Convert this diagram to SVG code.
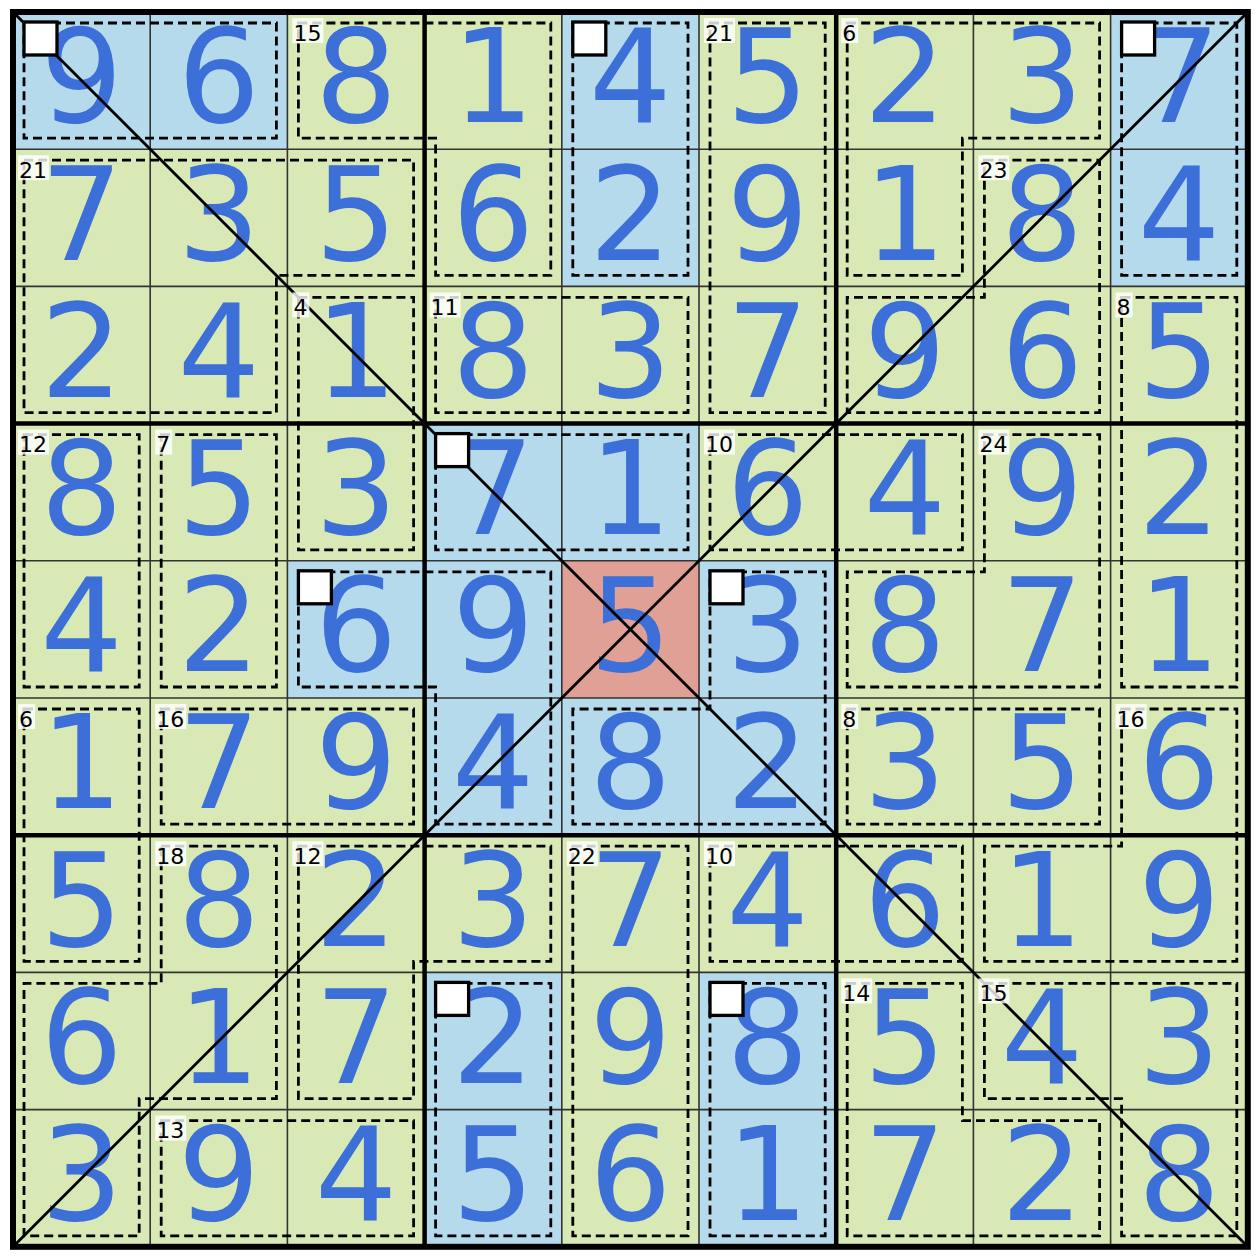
<svg xmlns="http://www.w3.org/2000/svg" width="1260" height="1258" viewBox="0 0 1260 1258">
<style>
.g{fill:#d9e9b6}
.b{fill:#b5daec}
.r{fill:#e0a095}
.dg{font-family:"DejaVu Sans",Verdana,sans-serif;font-size:130px;fill:#3d6fd8;text-anchor:middle}
.thin{stroke:#333;stroke-width:1.6}
.thick{stroke:#000;stroke-width:4.5}
.cage{fill:none;stroke:#000;stroke-width:2.8;stroke-dasharray:9 5}
.diag{stroke:#000;stroke-width:2.8}
.wb{fill:#fff;stroke:#000;stroke-width:3.3}
.lb{fill:#fff;fill-opacity:0.8}
.lt{font-family:"DejaVu Sans",Verdana,sans-serif;font-size:22px;fill:#000}
</style>
<rect width="1260" height="1258" fill="#fff"/>
<g id="cells">
<g id="c00"><rect class="b" x="13" y="12" width="137.2" height="137.2"/><text class="dg" x="81.6" y="122.4">9</text></g>
<g id="c01"><rect class="b" x="150.2" y="12" width="137.2" height="137.2"/><text class="dg" x="218.8" y="122.4">6</text></g>
<g id="c02"><rect class="g" x="287.4" y="12" width="137.2" height="137.2"/><text class="dg" x="356" y="122.4">8</text></g>
<g id="c03"><rect class="g" x="424.6" y="12" width="137.2" height="137.2"/><text class="dg" x="493.2" y="122.4">1</text></g>
<g id="c04"><rect class="b" x="561.8" y="12" width="137.2" height="137.2"/><text class="dg" x="630.4" y="122.4">4</text></g>
<g id="c05"><rect class="g" x="699" y="12" width="137.2" height="137.2"/><text class="dg" x="767.6" y="122.4">5</text></g>
<g id="c06"><rect class="g" x="836.2" y="12" width="137.2" height="137.2"/><text class="dg" x="904.8" y="122.4">2</text></g>
<g id="c07"><rect class="g" x="973.4" y="12" width="137.2" height="137.2"/><text class="dg" x="1042" y="122.4">3</text></g>
<g id="c08"><rect class="b" x="1110.6" y="12" width="137.2" height="137.2"/><text class="dg" x="1179.2" y="122.4">7</text></g>

<g id="c10"><rect class="g" x="13" y="149.2" width="137.2" height="137.2"/><text class="dg" x="81.6" y="259.6">7</text></g>
<g id="c11"><rect class="g" x="150.2" y="149.2" width="137.2" height="137.2"/><text class="dg" x="218.8" y="259.6">3</text></g>
<g id="c12"><rect class="g" x="287.4" y="149.2" width="137.2" height="137.2"/><text class="dg" x="356" y="259.6">5</text></g>
<g id="c13"><rect class="g" x="424.6" y="149.2" width="137.2" height="137.2"/><text class="dg" x="493.2" y="259.6">6</text></g>
<g id="c14"><rect class="b" x="561.8" y="149.2" width="137.2" height="137.2"/><text class="dg" x="630.4" y="259.6">2</text></g>
<g id="c15"><rect class="g" x="699" y="149.2" width="137.2" height="137.2"/><text class="dg" x="767.6" y="259.6">9</text></g>
<g id="c16"><rect class="g" x="836.2" y="149.2" width="137.2" height="137.2"/><text class="dg" x="904.8" y="259.6">1</text></g>
<g id="c17"><rect class="g" x="973.4" y="149.2" width="137.2" height="137.2"/><text class="dg" x="1042" y="259.6">8</text></g>
<g id="c18"><rect class="b" x="1110.6" y="149.2" width="137.2" height="137.2"/><text class="dg" x="1179.2" y="259.6">4</text></g>

<g id="c20"><rect class="g" x="13" y="286.4" width="137.2" height="137.2"/><text class="dg" x="81.6" y="396.8">2</text></g>
<g id="c21"><rect class="g" x="150.2" y="286.4" width="137.2" height="137.2"/><text class="dg" x="218.8" y="396.8">4</text></g>
<g id="c22"><rect class="g" x="287.4" y="286.4" width="137.2" height="137.2"/><text class="dg" x="356" y="396.8">1</text></g>
<g id="c23"><rect class="g" x="424.6" y="286.4" width="137.2" height="137.2"/><text class="dg" x="493.2" y="396.8">8</text></g>
<g id="c24"><rect class="g" x="561.8" y="286.4" width="137.2" height="137.2"/><text class="dg" x="630.4" y="396.8">3</text></g>
<g id="c25"><rect class="g" x="699" y="286.4" width="137.2" height="137.2"/><text class="dg" x="767.6" y="396.8">7</text></g>
<g id="c26"><rect class="g" x="836.2" y="286.4" width="137.2" height="137.2"/><text class="dg" x="904.8" y="396.8">9</text></g>
<g id="c27"><rect class="g" x="973.4" y="286.4" width="137.2" height="137.2"/><text class="dg" x="1042" y="396.8">6</text></g>
<g id="c28"><rect class="g" x="1110.6" y="286.4" width="137.2" height="137.2"/><text class="dg" x="1179.2" y="396.8">5</text></g>

<g id="c30"><rect class="g" x="13" y="423.6" width="137.2" height="137.2"/><text class="dg" x="81.6" y="534">8</text></g>
<g id="c31"><rect class="g" x="150.2" y="423.6" width="137.2" height="137.2"/><text class="dg" x="218.8" y="534">5</text></g>
<g id="c32"><rect class="g" x="287.4" y="423.6" width="137.2" height="137.2"/><text class="dg" x="356" y="534">3</text></g>
<g id="c33"><rect class="b" x="424.6" y="423.6" width="137.2" height="137.2"/><text class="dg" x="493.2" y="534">7</text></g>
<g id="c34"><rect class="b" x="561.8" y="423.6" width="137.2" height="137.2"/><text class="dg" x="630.4" y="534">1</text></g>
<g id="c35"><rect class="g" x="699" y="423.6" width="137.2" height="137.2"/><text class="dg" x="767.6" y="534">6</text></g>
<g id="c36"><rect class="g" x="836.2" y="423.6" width="137.2" height="137.2"/><text class="dg" x="904.8" y="534">4</text></g>
<g id="c37"><rect class="g" x="973.4" y="423.6" width="137.2" height="137.2"/><text class="dg" x="1042" y="534">9</text></g>
<g id="c38"><rect class="g" x="1110.6" y="423.6" width="137.2" height="137.2"/><text class="dg" x="1179.2" y="534">2</text></g>

<g id="c40"><rect class="g" x="13" y="560.8" width="137.2" height="137.2"/><text class="dg" x="81.6" y="671.2">4</text></g>
<g id="c41"><rect class="g" x="150.2" y="560.8" width="137.2" height="137.2"/><text class="dg" x="218.8" y="671.2">2</text></g>
<g id="c42"><rect class="b" x="287.4" y="560.8" width="137.2" height="137.2"/><text class="dg" x="356" y="671.2">6</text></g>
<g id="c43"><rect class="b" x="424.6" y="560.8" width="137.2" height="137.2"/><text class="dg" x="493.2" y="671.2">9</text></g>
<g id="c44"><rect class="r" x="561.8" y="560.8" width="137.2" height="137.2"/><text class="dg" x="630.4" y="671.2">5</text></g>
<g id="c45"><rect class="b" x="699" y="560.8" width="137.2" height="137.2"/><text class="dg" x="767.6" y="671.2">3</text></g>
<g id="c46"><rect class="g" x="836.2" y="560.8" width="137.2" height="137.2"/><text class="dg" x="904.8" y="671.2">8</text></g>
<g id="c47"><rect class="g" x="973.4" y="560.8" width="137.2" height="137.2"/><text class="dg" x="1042" y="671.2">7</text></g>
<g id="c48"><rect class="g" x="1110.6" y="560.8" width="137.2" height="137.2"/><text class="dg" x="1179.2" y="671.2">1</text></g>

<g id="c50"><rect class="g" x="13" y="698" width="137.2" height="137.2"/><text class="dg" x="81.6" y="808.4">1</text></g>
<g id="c51"><rect class="g" x="150.2" y="698" width="137.2" height="137.2"/><text class="dg" x="218.8" y="808.4">7</text></g>
<g id="c52"><rect class="g" x="287.4" y="698" width="137.2" height="137.2"/><text class="dg" x="356" y="808.4">9</text></g>
<g id="c53"><rect class="b" x="424.6" y="698" width="137.2" height="137.2"/><text class="dg" x="493.2" y="808.4">4</text></g>
<g id="c54"><rect class="b" x="561.8" y="698" width="137.2" height="137.2"/><text class="dg" x="630.4" y="808.4">8</text></g>
<g id="c55"><rect class="b" x="699" y="698" width="137.2" height="137.2"/><text class="dg" x="767.6" y="808.4">2</text></g>
<g id="c56"><rect class="g" x="836.2" y="698" width="137.2" height="137.2"/><text class="dg" x="904.8" y="808.4">3</text></g>
<g id="c57"><rect class="g" x="973.4" y="698" width="137.2" height="137.2"/><text class="dg" x="1042" y="808.4">5</text></g>
<g id="c58"><rect class="g" x="1110.6" y="698" width="137.2" height="137.2"/><text class="dg" x="1179.2" y="808.4">6</text></g>

<g id="c60"><rect class="g" x="13" y="835.2" width="137.2" height="137.2"/><text class="dg" x="81.6" y="945.6">5</text></g>
<g id="c61"><rect class="g" x="150.2" y="835.2" width="137.2" height="137.2"/><text class="dg" x="218.8" y="945.6">8</text></g>
<g id="c62"><rect class="g" x="287.4" y="835.2" width="137.2" height="137.2"/><text class="dg" x="356" y="945.6">2</text></g>
<g id="c63"><rect class="g" x="424.6" y="835.2" width="137.2" height="137.2"/><text class="dg" x="493.2" y="945.6">3</text></g>
<g id="c64"><rect class="g" x="561.8" y="835.2" width="137.2" height="137.2"/><text class="dg" x="630.4" y="945.6">7</text></g>
<g id="c65"><rect class="g" x="699" y="835.2" width="137.2" height="137.2"/><text class="dg" x="767.6" y="945.6">4</text></g>
<g id="c66"><rect class="g" x="836.2" y="835.2" width="137.2" height="137.2"/><text class="dg" x="904.8" y="945.6">6</text></g>
<g id="c67"><rect class="g" x="973.4" y="835.2" width="137.2" height="137.2"/><text class="dg" x="1042" y="945.6">1</text></g>
<g id="c68"><rect class="g" x="1110.6" y="835.2" width="137.2" height="137.2"/><text class="dg" x="1179.2" y="945.6">9</text></g>

<g id="c70"><rect class="g" x="13" y="972.4" width="137.2" height="137.2"/><text class="dg" x="81.6" y="1082.8">6</text></g>
<g id="c71"><rect class="g" x="150.2" y="972.4" width="137.2" height="137.2"/><text class="dg" x="218.8" y="1082.8">1</text></g>
<g id="c72"><rect class="g" x="287.4" y="972.4" width="137.2" height="137.2"/><text class="dg" x="356" y="1082.8">7</text></g>
<g id="c73"><rect class="b" x="424.6" y="972.4" width="137.2" height="137.2"/><text class="dg" x="493.2" y="1082.8">2</text></g>
<g id="c74"><rect class="g" x="561.8" y="972.4" width="137.2" height="137.2"/><text class="dg" x="630.4" y="1082.8">9</text></g>
<g id="c75"><rect class="b" x="699" y="972.4" width="137.2" height="137.2"/><text class="dg" x="767.6" y="1082.8">8</text></g>
<g id="c76"><rect class="g" x="836.2" y="972.4" width="137.2" height="137.2"/><text class="dg" x="904.8" y="1082.8">5</text></g>
<g id="c77"><rect class="g" x="973.4" y="972.4" width="137.2" height="137.2"/><text class="dg" x="1042" y="1082.8">4</text></g>
<g id="c78"><rect class="g" x="1110.6" y="972.4" width="137.2" height="137.2"/><text class="dg" x="1179.2" y="1082.8">3</text></g>

<g id="c80"><rect class="g" x="13" y="1109.6" width="137.2" height="137.2"/><text class="dg" x="81.6" y="1220">3</text></g>
<g id="c81"><rect class="g" x="150.2" y="1109.6" width="137.2" height="137.2"/><text class="dg" x="218.8" y="1220">9</text></g>
<g id="c82"><rect class="g" x="287.4" y="1109.6" width="137.2" height="137.2"/><text class="dg" x="356" y="1220">4</text></g>
<g id="c83"><rect class="b" x="424.6" y="1109.6" width="137.2" height="137.2"/><text class="dg" x="493.2" y="1220">5</text></g>
<g id="c84"><rect class="g" x="561.8" y="1109.6" width="137.2" height="137.2"/><text class="dg" x="630.4" y="1220">6</text></g>
<g id="c85"><rect class="b" x="699" y="1109.6" width="137.2" height="137.2"/><text class="dg" x="767.6" y="1220">1</text></g>
<g id="c86"><rect class="g" x="836.2" y="1109.6" width="137.2" height="137.2"/><text class="dg" x="904.8" y="1220">7</text></g>
<g id="c87"><rect class="g" x="973.4" y="1109.6" width="137.2" height="137.2"/><text class="dg" x="1042" y="1220">2</text></g>
<g id="c88"><rect class="g" x="1110.6" y="1109.6" width="137.2" height="137.2"/><text class="dg" x="1179.2" y="1220">8</text></g>
</g>
<g id="gridlines">
<path class="thin" d="M150.2 12V1246.8M287.4 12V1246.8M561.8 12V1246.8M699 12V1246.8M973.4 12V1246.8M1110.6 12V1246.8M13 149.2H1247.8M13 286.4H1247.8M13 560.8H1247.8M13 698H1247.8M13 972.4H1247.8M13 1109.6H1247.8"/>
<path class="thick" d="M424.6 12V1246.8M836.2 12V1246.8M13 423.6H1247.8M13 835.2H1247.8"/>
</g>
<g id="cages">
<polygon class="cage" points="24,23 276.4,23 276.4,138.2 24,138.2"/>
<polygon class="cage" points="298.4,23 550.8,23 550.8,275.4 435.6,275.4 435.6,138.2 298.4,138.2"/>
<polygon class="cage" points="572.8,23 688,23 688,275.4 572.8,275.4"/>
<polygon class="cage" points="710,23 825.2,23 825.2,412.6 710,412.6"/>
<polygon class="cage" points="847.2,23 1099.6,23 1099.6,138.2 962.4,138.2 962.4,275.4 847.2,275.4"/>
<polygon class="cage" points="1121.6,23 1236.8,23 1236.8,275.4 1121.6,275.4"/>
<polygon class="cage" points="24,160.2 413.6,160.2 413.6,275.4 276.4,275.4 276.4,412.6 24,412.6"/>
<polygon class="cage" points="984.4,160.2 1099.6,160.2 1099.6,412.6 847.2,412.6 847.2,297.4 984.4,297.4"/>
<polygon class="cage" points="298.4,297.4 413.6,297.4 413.6,549.8 298.4,549.8"/>
<polygon class="cage" points="435.6,297.4 688,297.4 688,412.6 435.6,412.6"/>
<polygon class="cage" points="1121.6,297.4 1236.8,297.4 1236.8,687 1121.6,687"/>
<polygon class="cage" points="24,434.6 139.2,434.6 139.2,687 24,687"/>
<polygon class="cage" points="161.2,434.6 276.4,434.6 276.4,687 161.2,687"/>
<polygon class="cage" points="435.6,434.6 688,434.6 688,549.8 435.6,549.8"/>
<polygon class="cage" points="710,434.6 962.4,434.6 962.4,549.8 710,549.8"/>
<polygon class="cage" points="984.4,434.6 1099.6,434.6 1099.6,687 847.2,687 847.2,571.8 984.4,571.8"/>
<polygon class="cage" points="298.4,571.8 550.8,571.8 550.8,824.2 435.6,824.2 435.6,687 298.4,687"/>
<polygon class="cage" points="710,571.8 825.2,571.8 825.2,824.2 572.8,824.2 572.8,709 710,709"/>
<polygon class="cage" points="24,709 139.2,709 139.2,961.4 24,961.4"/>
<polygon class="cage" points="161.2,709 413.6,709 413.6,824.2 161.2,824.2"/>
<polygon class="cage" points="847.2,709 1099.6,709 1099.6,824.2 847.2,824.2"/>
<polygon class="cage" points="1121.6,709 1236.8,709 1236.8,961.4 984.4,961.4 984.4,846.2 1121.6,846.2"/>
<polygon class="cage" points="161.2,846.2 276.4,846.2 276.4,1098.6 139.2,1098.6 139.2,1235.8 24,1235.8 24,983.4 161.2,983.4"/>
<polygon class="cage" points="298.4,846.2 550.8,846.2 550.8,961.4 413.6,961.4 413.6,1098.6 298.4,1098.6"/>
<polygon class="cage" points="572.8,846.2 688,846.2 688,1235.8 572.8,1235.8"/>
<polygon class="cage" points="710,846.2 962.4,846.2 962.4,961.4 710,961.4"/>
<polygon class="cage" points="435.6,983.4 550.8,983.4 550.8,1235.8 435.6,1235.8"/>
<polygon class="cage" points="710,983.4 825.2,983.4 825.2,1235.8 710,1235.8"/>
<polygon class="cage" points="847.2,983.4 962.4,983.4 962.4,1120.6 1099.6,1120.6 1099.6,1235.8 847.2,1235.8"/>
<polygon class="cage" points="984.4,983.4 1236.8,983.4 1236.8,1235.8 1121.6,1235.8 1121.6,1098.6 984.4,1098.6"/>
<polygon class="cage" points="161.2,1120.6 413.6,1120.6 413.6,1235.8 161.2,1235.8"/>
</g>
<g id="diagonals">
<line class="diag" x1="13" y1="12" x2="1247.8" y2="1246.8"/>
<line class="diag" x1="13" y1="1246.8" x2="1247.8" y2="12"/>
</g>
<rect x="13" y="12" width="1234.8" height="1234.8" fill="none" stroke="#000" stroke-width="6"/>
<g id="markers">
<rect class="wb" x="24" y="22" width="33" height="33"/>
<rect class="wb" x="572.8" y="22" width="33" height="33"/>
<rect class="wb" x="1121.6" y="22" width="33" height="33"/>
<rect class="wb" x="435.6" y="433.6" width="33" height="33"/>
<rect class="wb" x="298.4" y="570.8" width="33" height="33"/>
<rect class="wb" x="710" y="570.8" width="33" height="33"/>
<rect class="wb" x="435.6" y="982.4" width="33" height="33"/>
<rect class="wb" x="710" y="982.4" width="33" height="33"/>
</g>
<g id="labels">
<rect class="lb" x="292.4" y="18" width="31" height="25"/><text class="lt" x="293.4" y="40.5">15</text>
<rect class="lb" x="704" y="18" width="31" height="25"/><text class="lt" x="705" y="40.5">21</text>
<rect class="lb" x="841.2" y="18" width="17" height="25"/><text class="lt" x="842.2" y="40.5">6</text>
<rect class="lb" x="18" y="155.2" width="31" height="25"/><text class="lt" x="19" y="177.7">21</text>
<rect class="lb" x="978.4" y="155.2" width="31" height="25"/><text class="lt" x="979.4" y="177.7">23</text>
<rect class="lb" x="292.4" y="292.4" width="17" height="25"/><text class="lt" x="293.4" y="314.9">4</text>
<rect class="lb" x="429.6" y="292.4" width="31" height="25"/><text class="lt" x="430.6" y="314.9">11</text>
<rect class="lb" x="1115.6" y="292.4" width="17" height="25"/><text class="lt" x="1116.6" y="314.9">8</text>
<rect class="lb" x="18" y="429.6" width="31" height="25"/><text class="lt" x="19" y="452.1">12</text>
<rect class="lb" x="155.2" y="429.6" width="17" height="25"/><text class="lt" x="156.2" y="452.1">7</text>
<rect class="lb" x="704" y="429.6" width="31" height="25"/><text class="lt" x="705" y="452.1">10</text>
<rect class="lb" x="978.4" y="429.6" width="31" height="25"/><text class="lt" x="979.4" y="452.1">24</text>
<rect class="lb" x="18" y="704" width="17" height="25"/><text class="lt" x="19" y="726.5">6</text>
<rect class="lb" x="155.2" y="704" width="31" height="25"/><text class="lt" x="156.2" y="726.5">16</text>
<rect class="lb" x="841.2" y="704" width="17" height="25"/><text class="lt" x="842.2" y="726.5">8</text>
<rect class="lb" x="1115.6" y="704" width="31" height="25"/><text class="lt" x="1116.6" y="726.5">16</text>
<rect class="lb" x="155.2" y="841.2" width="31" height="25"/><text class="lt" x="156.2" y="863.7">18</text>
<rect class="lb" x="292.4" y="841.2" width="31" height="25"/><text class="lt" x="293.4" y="863.7">12</text>
<rect class="lb" x="566.8" y="841.2" width="31" height="25"/><text class="lt" x="567.8" y="863.7">22</text>
<rect class="lb" x="704" y="841.2" width="31" height="25"/><text class="lt" x="705" y="863.7">10</text>
<rect class="lb" x="841.2" y="978.4" width="31" height="25"/><text class="lt" x="842.2" y="1000.9">14</text>
<rect class="lb" x="978.4" y="978.4" width="31" height="25"/><text class="lt" x="979.4" y="1000.9">15</text>
<rect class="lb" x="155.2" y="1115.6" width="31" height="25"/><text class="lt" x="156.2" y="1138.1">13</text>
</g>
</svg>
